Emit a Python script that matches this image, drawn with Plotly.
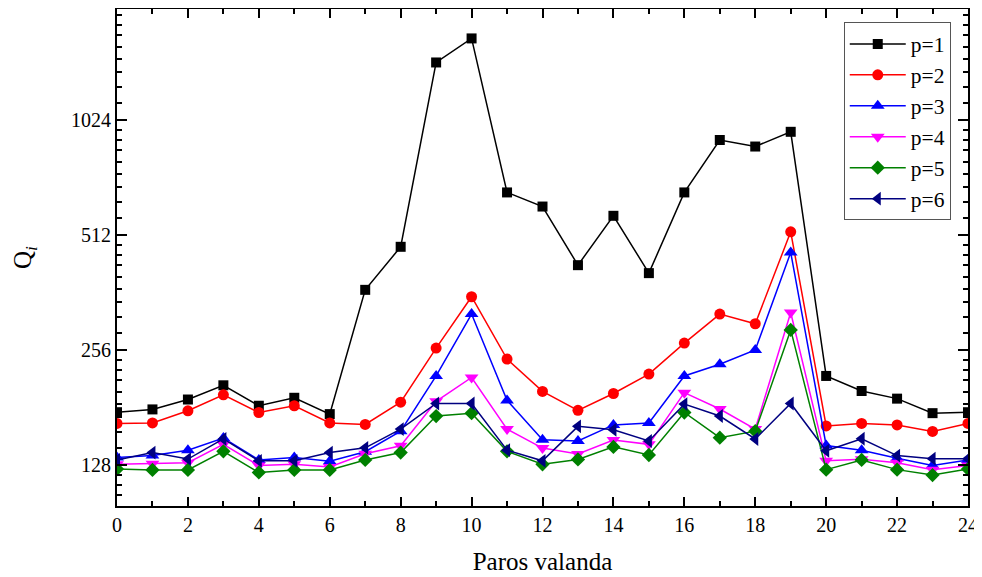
import numpy as np
import plotly.graph_objects as go

x = list(range(25))
p1 = [176, 179, 190, 207, 183, 192, 174, 368, 477, 1449, 1675, 662, 608, 427, 575, 407, 662, 908, 873, 954, 219, 200, 191, 175, 176]
p2 = [164.5, 165, 177.5, 195.5, 175.7, 183, 165, 163.5, 187, 259, 353, 242.5, 199.5, 178, 197, 221.5, 267, 318, 300, 522, 162, 164.5, 163, 156.7, 164.5]
p3 = [134, 135.5, 140, 150.7, 132, 134, 131, 138.7, 157, 219, 318, 189, 149, 148, 163, 165, 219, 235, 256, 461, 144, 140, 133.4, 127.6, 132]
p4 = [128.6, 129, 129.8, 145, 127.6, 128.6, 126.5, 137, 143.8, 188, 217, 159, 141.8, 136.8, 148.8, 145, 198, 179.4, 159, 321, 131.3, 132.5, 129.8, 124.5, 127.6]
p5 = [125, 124.3, 124.3, 139, 122.4, 124.3, 124.3, 132, 138, 172, 175, 139, 128.6, 132.4, 142.8, 136, 175.7, 151, 157, 289, 124.5, 132, 124.5, 120.5, 125]
p6 = [132, 138, 132.7, 149.8, 131.3, 131.3, 138, 142, 159, 185.5, 185.5, 140, 131.3, 161.6, 158.3, 148, 184.8, 172, 149.8, 185.5, 139.5, 150, 135.5, 133, 133]

names = ["p=1", "p=2", "p=3", "p=4", "p=5", "p=6"]
series = [p1, p2, p3, p4, p5, p6]
colors = ["#000000", "#FF0000", "#0000FF", "#FF00FF", "#008000", "#000080"]
symbols = ["square", "circle", "triangle-up", "triangle-down", "diamond", "triangle-left"]
sizes = [10, 11, 12, 12, 11, 12]

y_ticks = [128, 256, 512, 1024]
minor_vals = [b * (1 + k / 9) for b in [64, 128, 256, 512, 1024] for k in range(1, 9)]

fig = go.Figure()
for nm, ys, c, s, sz in zip(names, series, colors, symbols, sizes):
    fig.add_trace(go.Scatter(
        x=x, y=ys, name=nm, mode="lines+markers",
        line=dict(color=c, width=1.5),
        marker=dict(symbol=s, size=sz, color=c),
    ))

font_family = "Liberation Serif"
fig.update_layout(
    width=974, height=570,
    margin=dict(l=109, r=14, t=1, b=72),
    paper_bgcolor="white", plot_bgcolor="white",
    font=dict(family=font_family, color="black", size=20),
    showlegend=True,
    legend=dict(
        x=0.854, y=0.973, xanchor="left", yanchor="top",
        bordercolor="#555555", borderwidth=1, bgcolor="white",
        font=dict(family=font_family, size=21.5, color="black"),
        tracegroupgap=0, itemwidth=56,
    ),
    xaxis=dict(
        range=[0, 24], tickmode="array", tickvals=list(range(0, 25, 2)),
        ticks="inside", ticklen=9, tickwidth=1.5, tickcolor="black",
        showline=True, linewidth=2, linecolor="black", mirror="allticks",
        showgrid=False, zeroline=False, automargin=False,
        tickfont=dict(size=20),
        minor=dict(tickvals=list(range(1, 24, 2)), ticks="inside", ticklen=5,
                   tickwidth=1.5, tickcolor="black", showgrid=False),
        title=dict(text="Paros valanda", font=dict(size=25), standoff=17),
    ),
    yaxis=dict(
        type="log", range=[np.log10(100), np.log10(2000)],
        tickmode="array", tickvals=y_ticks, ticktext=[str(v) for v in y_ticks],
        ticks="inside", ticklen=10, tickwidth=1.5, tickcolor="black",
        showline=True, linewidth=2, linecolor="black", mirror="allticks",
        showgrid=False, zeroline=False, automargin=False,
        tickfont=dict(size=20),
        minor=dict(tickvals=minor_vals, ticks="inside", ticklen=5,
                   tickwidth=1.5, tickcolor="black", showgrid=False),
        title=dict(text="Q<sub><i>i</i></sub>", font=dict(size=25), standoff=32),
    ),
)

fig.write_html("out.html")
